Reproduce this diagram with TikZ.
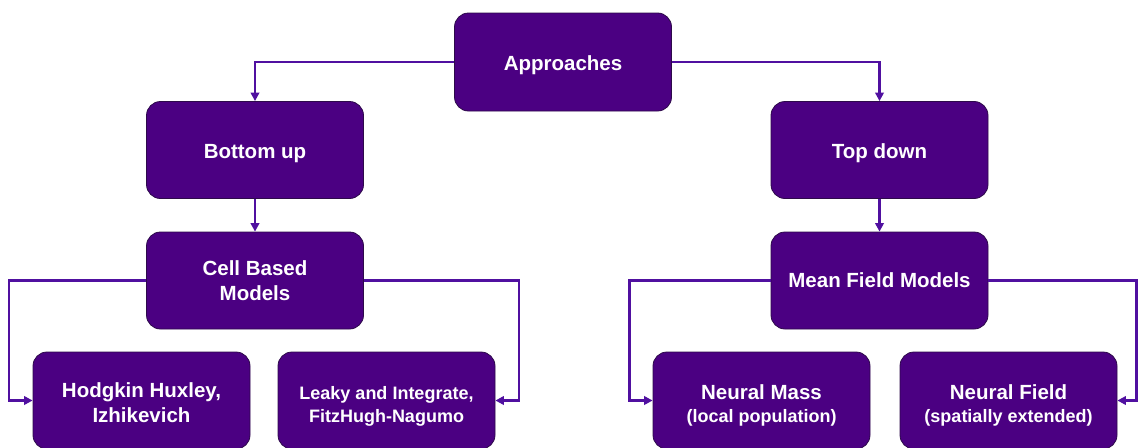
\documentclass[tikz,border=0pt]{standalone}
\usepackage{fontspec}
\setmainfont{Liberation Sans}
\usetikzlibrary{arrows.meta}
\definecolor{boxfill}{HTML}{4B0082}
\definecolor{boxedge}{HTML}{2D0A4A}
\definecolor{linecol}{HTML}{5010A0}
\newcommand\tup[1]{\rule{0pt}{#1pt}}
\begin{document}
\begin{tikzpicture}[x=1pt,y=-1pt,
  box/.style={draw=boxedge, line width=0.8pt, fill=boxfill, rounded corners=14pt,
    text=white, font=\fontsize{20.5}{25}\selectfont\bfseries, align=center, inner sep=0pt,
    minimum width=217pt, minimum height=97pt},
  one/.style={execute at begin node={\rule{0pt}{21.5pt}}},
  conn/.style={draw=linecol, line width=2.5pt, -{Triangle[length=8.5pt,width=8.5pt]}},
  small/.style={font=\fontsize{18}{23}\selectfont\bfseries},
  tight/.style={font=\fontsize{20.5}{23}\selectfont\bfseries}]
\useasboundingbox (0,0) rectangle (1139,447);
\node[box, one, minimum height=98pt] (app) at (563,62) {Approaches};
\node[box, one] (bu) at (255,150) {Bottom up};
\node[box, one] (td) at (879.5,150) {Top down};
\node[box] (cb) at (255,280.5) {Cell Based\\Models};
\node[box] (mf) at (879.5,280.5) {Mean Field Models};
\node[box] (hh) at (141.5,400.5) {\tup{19}Hodgkin Huxley,\\Izhikevich};
\node[box, small] (li) at (386.5,400.5) {\tup{24}Leaky and Integrate,\\FitzHugh-Nagumo};
\node[box, tight] (nm) at (761.5,400.5) {\tup{24}Neural Mass\\\fontsize{18}{23}\selectfont(local population)};
\node[box, tight] (nf) at (1008.5,400.5) {\tup{24}Neural Field\\\fontsize{18}{23}\selectfont(spatially extended)};
\draw[conn] (app.west) -| (bu.north);
\draw[conn] (app.east) -| (td.north);
\draw[conn] (bu) -- (cb);
\draw[conn] (td) -- (mf);
\draw[conn] (cb.west) -- ++(-137,0) |- (hh.west);
\draw[conn] (cb.east) -- ++(155,0) |- (li.east);
\draw[conn] (mf.west) -- ++(-141,0) |- (nm.west);
\draw[conn] (mf.east) -- ++(148,0) |- (nf.east);
\end{tikzpicture}
\end{document}
